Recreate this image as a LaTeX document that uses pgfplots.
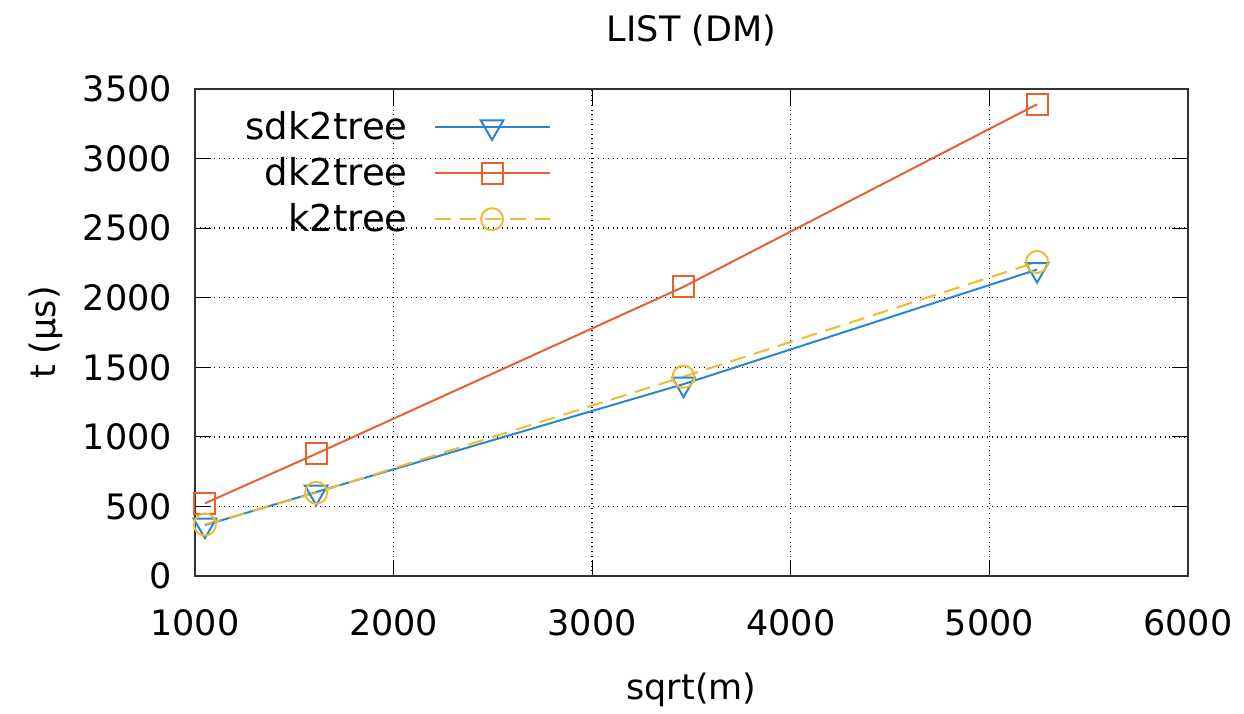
\documentclass[border=0pt]{standalone}
\usepackage{fontspec}
\setmainfont{DejaVu Sans}
\usepackage{pgfplots}
\pgfplotsset{compat=1.18}
\definecolor{gpblue}{HTML}{2A86CC}
\definecolor{gporange}{HTML}{E4622F}
\definecolor{gpyellow}{HTML}{EFBB35}
\begin{document}
\begin{tikzpicture}
\begin{axis}[
  scale only axis,
  width=496.5pt, height=243.5pt,
  xmin=1000, xmax=6000, ymin=0, ymax=3500,
  xtick={1000,2000,...,6000}, ytick={0,500,...,3500},
  /pgf/number format/assume math mode=true,
  /pgf/number format/1000 sep={},
  tick label style={font=\fontsize{17.5}{20}\selectfont},
  label style={font=\fontsize{17.5}{20}\selectfont},
  title style={font=\fontsize{17.5}{20}\selectfont, yshift=12pt},
  title={LIST (DM)},
  xlabel={sqrt(m)}, ylabel={t (µs)},
  xlabel style={yshift=-12pt},
  ylabel style={yshift=3pt},
  xticklabel style={yshift=-13pt},
  yticklabel style={xshift=-8pt},
  tick align=inside, major tick length=8pt,
  tick style={black, line width=0.6pt},
  axis line style={black!80, line width=0.7pt},
  grid=major, grid style={black, dotted, line width=0.7pt},
  legend cell align=right, legend plot pos=right,
  legend style={draw=none, fill=none, at={(0,1)}, anchor=north west,
    xshift=20pt, yshift=-7pt,
    font=\fontsize{18.5}{21}\selectfont, row sep=3.5pt, column sep=11pt},
  legend image code/.code={\draw[mark repeat=2,mark phase=2] plot coordinates {(0pt,0pt) (28.75pt,0pt) (57.5pt,0pt)};},
]
\addplot[gpblue, line width=1pt, mark=triangle, mark options={rotate=180, solid}, mark size=6.5pt]
  coordinates {(1050,365) (1610,603) (3460,1379) (5240,2202)};
\addplot[gporange, line width=1pt, mark=square, mark options={solid}, mark size=5.25pt]
  coordinates {(1050,522) (1610,878) (3460,2078) (5240,3390)};
\addplot[gpyellow, line width=1pt, dash pattern=on 8pt off 4.5pt, mark=o, mark options={solid}, mark size=5.5pt]
  coordinates {(1050,370) (1610,598) (3460,1432) (5240,2257)};
\legend{sdk2tree, dk2tree, k2tree}
\end{axis}
\path (current axis.south west) ++(-97.5pt,-67pt) coordinate (a);
\path (current axis.south west) ++(524.5pt,288pt) coordinate (b);
\path (a) rectangle (b);
\end{tikzpicture}
\end{document}
